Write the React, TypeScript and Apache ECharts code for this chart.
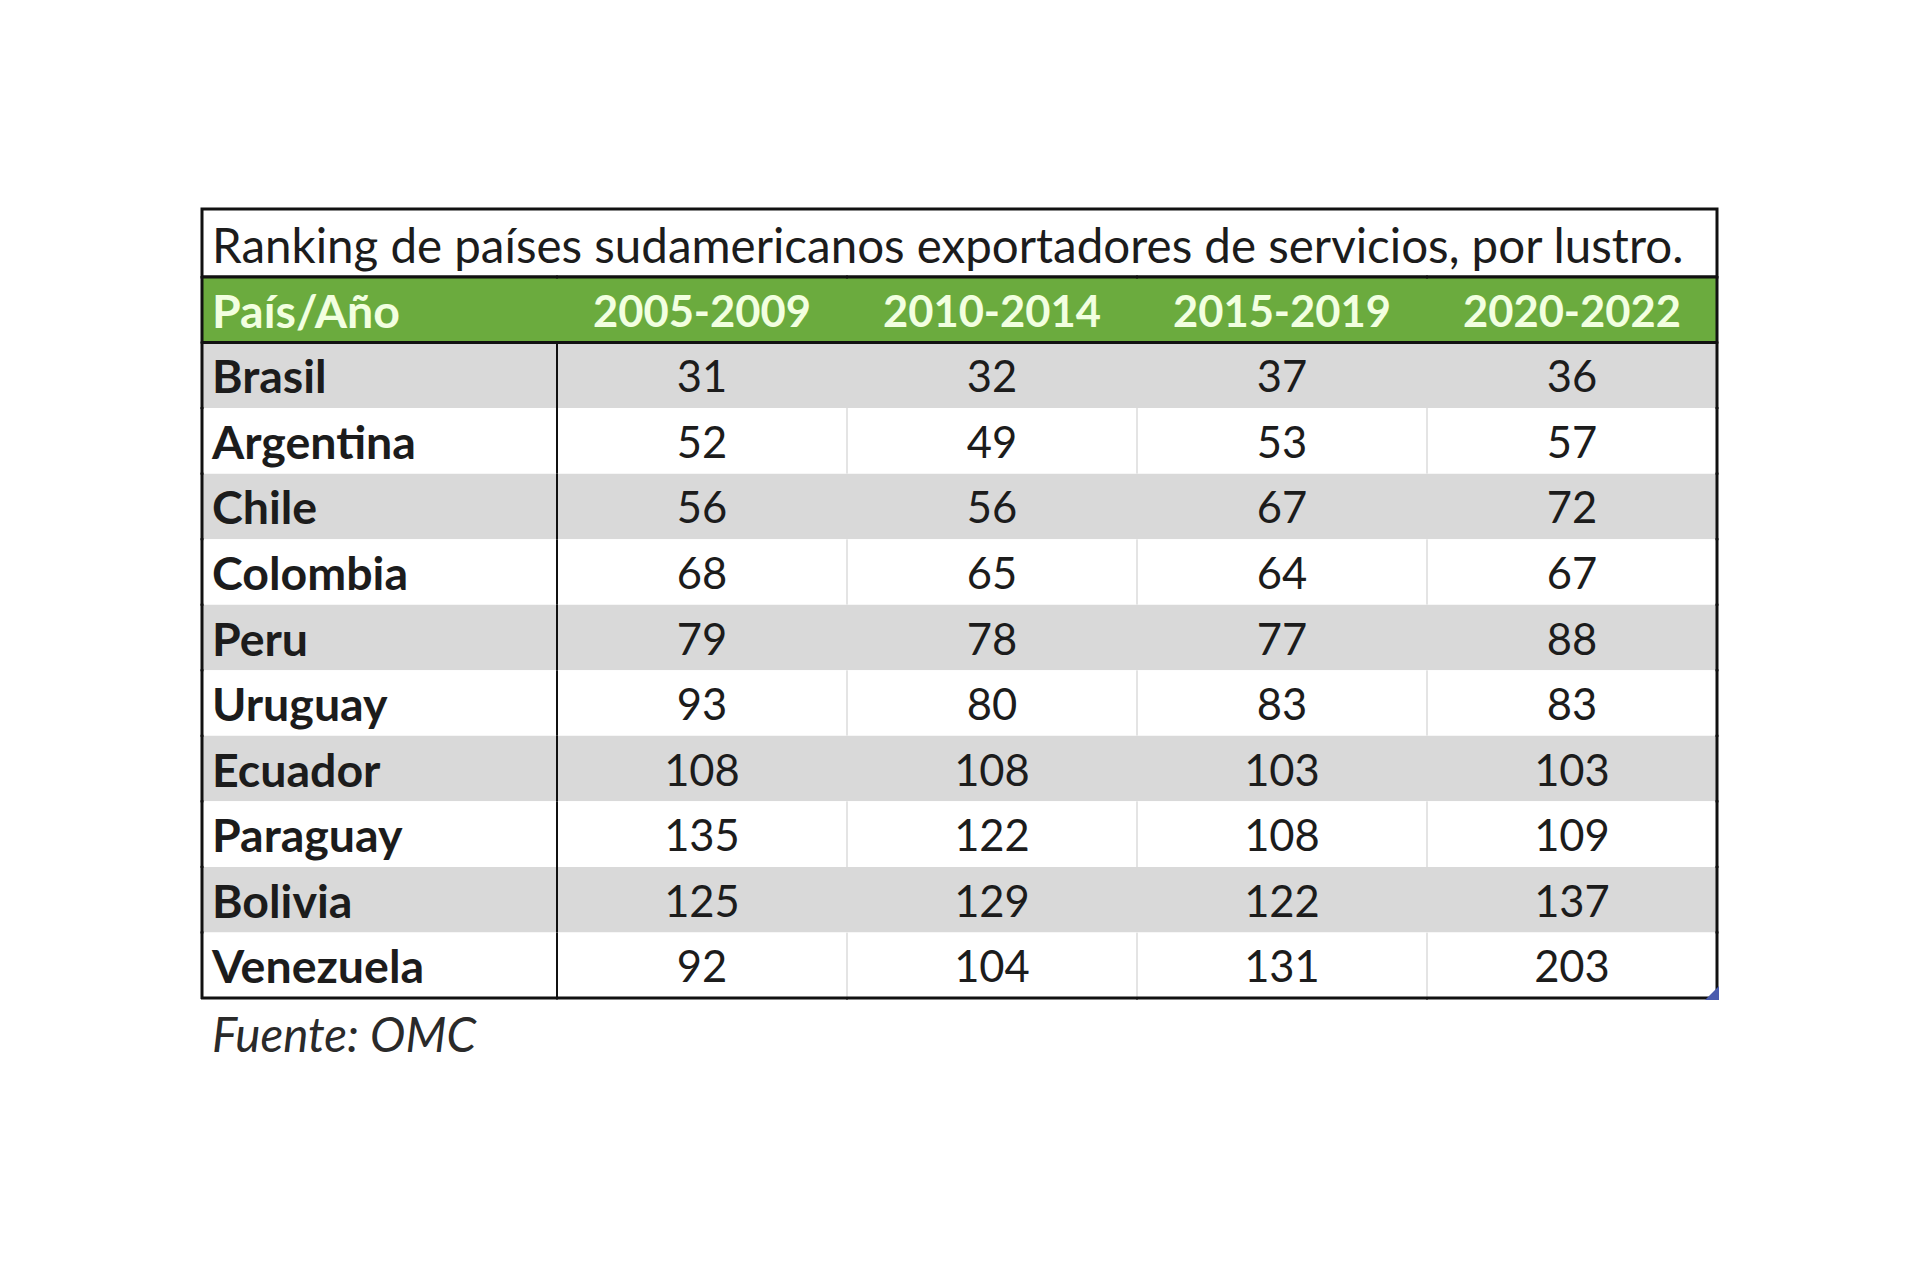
import React, { useEffect, useRef } from "react";
import * as echarts from "echarts";

const TITLE = "Ranking de países sudamericanos exportadores de servicios, por lustro.";
const SOURCE = "Fuente: OMC";
const HEADER_FIRST = "País/Año";
const PERIODS = ["2005-2009", "2010-2014", "2015-2019", "2020-2022"];
const COUNTRIES = ["Brasil", "Argentina", "Chile", "Colombia", "Peru", "Uruguay", "Ecuador", "Paraguay", "Bolivia", "Venezuela"];
const RANK_2005_2009 = [31, 52, 56, 68, 79, 93, 108, 135, 125, 92];
const RANK_2010_2014 = [32, 49, 56, 65, 78, 80, 108, 122, 129, 104];
const RANK_2015_2019 = [37, 53, 67, 64, 77, 83, 103, 108, 122, 131];
const RANK_2020_2022 = [36, 57, 72, 67, 88, 83, 103, 109, 137, 203];

const FONT = "Lato, 'Open Sans', sans-serif";
const GREEN = "#6bab3e";
const HEADER_TEXT = "#f2ffe0";
const BAND = "#d9d9d9";
const DARK = "#111111";

export default function App() {
  const ref = useRef<HTMLDivElement>(null);
  useEffect(() => {
    if (!ref.current) return;
    const chart = echarts.init(ref.current, undefined, { renderer: "svg" });
    const rows = [HEADER_FIRST, ...COUNTRIES];
    const lastRow = rows.length - 1;
    const columns = [RANK_2005_2009, RANK_2010_2014, RANK_2015_2019, RANK_2020_2022];

    const nameData: number[][] = [];
    const nameTexts: string[] = [];
    rows.forEach((r, i) => {
      nameData.push([0, i]);
      nameTexts.push(r);
    });
    const cellData: number[][] = [];
    const cellTexts: string[] = [];
    PERIODS.forEach((p, c) => {
      cellData.push([c, 0]);
      cellTexts.push(p);
      columns[c].forEach((v, r) => {
        cellData.push([c, r + 1]);
        cellTexts.push(String(v));
      });
    });

    const line = (x1: number, y1: number, x2: number, y2: number, color: string, w: number) => ({
      type: "line",
      z2: 10,
      shape: { x1, y1, x2, y2 },
      style: { stroke: color, lineWidth: w },
    });

    const makeRender = (isName: boolean, texts: string[], lastCol: number) => (params: any, api: any) => {
      const cx = api.value(0);
      const cy = api.value(1);
      const c = api.coord([cx, cy]);
      const s = api.size([1, 1]);
      const x0 = c[0] - s[0] / 2;
      const y0 = c[1] - s[1] / 2;
      const w = s[0];
      const h = s[1];
      const header = cy === 0;
      const fill = header ? GREEN : cy % 2 === 1 ? BAND : "#ffffff";
      const children: any[] = [
        { type: "rect", shape: { x: x0, y: y0, width: w, height: h }, style: { fill } },
        {
          type: "text",
          z2: 5,
          style: {
            text: texts[params.dataIndex],
            x: isName ? x0 + 10 : c[0],
            y: c[1],
            align: isName ? "left" : "center",
            verticalAlign: "middle",
            fontFamily: FONT,
            fontSize: isName ? 46.5 : 43.5,
            fontWeight: header || isName ? "bold" : "normal",
            fill: header ? HEADER_TEXT : "#1c1c1c",
          },
        },
      ];
      if (header) {
        children.push(line(x0 - 1, y0, x0 + w + 1, y0, DARK, 3));
        children.push(line(x0 - 1, y0 + h, x0 + w + 1, y0 + h, DARK, 3));
      } else {
        if (isName) children.push(line(x0 + w, y0, x0 + w, y0 + h, DARK, 2));
        if (!isName && cx > 0 && cy % 2 === 0) children.push(line(x0, y0, x0, y0 + h, "#e4e4e4", 2));
      }
      if (isName) children.push(line(x0, y0 - 1, x0, y0 + h + 1, DARK, 3));
      if (!isName && cx === lastCol) children.push(line(x0 + w, y0 - 1, x0 + w, y0 + h + 1, DARK, 3));
      if (cy === lastRow) children.push(line(x0 - 1, y0 + h, x0 + w + 1, y0 + h, DARK, 3));
      return { type: "group", children };
    };

    chart.setOption({
      animation: false,
      backgroundColor: "#ffffff",
      grid: [
        { left: 202, top: 277, width: 355, height: 721 },
        { left: 557, top: 277, width: 1160, height: 721 },
      ],
      xAxis: [
        { type: "category", gridIndex: 0, data: ["name"], show: false },
        { type: "category", gridIndex: 1, data: PERIODS, show: false },
      ],
      yAxis: [
        { type: "category", gridIndex: 0, data: rows, inverse: true, show: false },
        { type: "category", gridIndex: 1, data: rows, inverse: true, show: false },
      ],
      series: [
        {
          type: "custom",
          xAxisIndex: 0,
          yAxisIndex: 0,
          data: nameData,
          renderItem: makeRender(true, nameTexts, 0),
        },
        {
          type: "custom",
          xAxisIndex: 1,
          yAxisIndex: 1,
          data: cellData,
          renderItem: makeRender(false, cellTexts, PERIODS.length - 1),
        },
      ],
      graphic: [
        {
          type: "rect",
          shape: { x: 202, y: 209, width: 1515, height: 68 },
          style: { fill: "#ffffff", stroke: DARK, lineWidth: 3 },
        },
        {
          type: "text",
          style: {
            text: TITLE,
            x: 212,
            y: 244,
            verticalAlign: "middle",
            fontFamily: FONT,
            fontSize: 47.5,
            fill: "#1c1c1c",
          },
        },
        {
          type: "text",
          style: {
            text: SOURCE,
            x: 212,
            y: 1033,
            verticalAlign: "middle",
            fontFamily: FONT,
            fontSize: 47.5,
            fontStyle: "italic",
            fill: "#2a2a2a",
          },
        },
        {
          type: "polygon",
          z: 100,
          shape: { points: [[1719, 986], [1719, 1000], [1705, 1000]] },
          style: { fill: "#4a5cae" },
        },
      ],
    });
    return () => chart.dispose();
  }, []);
  return <div ref={ref} style={{ position: "fixed", left: 0, top: 0, width: 1920, height: 1278 }} />;
}
